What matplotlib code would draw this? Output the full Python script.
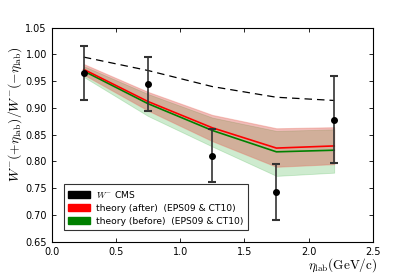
import matplotlib
matplotlib.use("Agg")
import matplotlib.pyplot as plt
import matplotlib.patches as mpatches
import numpy as np

eta = [0.25, 0.75, 1.25, 1.75, 2.2]
cms_y = [0.965, 0.945, 0.811, 0.743, 0.878]
cms_err = [0.050, 0.050, 0.049, 0.053, 0.081]
dashed_y = [0.995, 0.970, 0.940, 0.920, 0.914]
after_y = [0.972, 0.912, 0.863, 0.825, 0.829]
after_lo = [0.962, 0.895, 0.838, 0.790, 0.795]
after_hi = [0.982, 0.930, 0.887, 0.862, 0.864]
before_y = [0.969, 0.908, 0.858, 0.818, 0.821]
before_lo = [0.958, 0.885, 0.828, 0.773, 0.779]
before_hi = [0.978, 0.926, 0.882, 0.857, 0.860]

plt.rcParams['mathtext.fontset'] = 'cm'
fig = plt.figure(figsize=(4.15, 2.77), dpi=100)
ax = fig.add_axes([51.7/415, 1-241.7/277, (372.7-51.7)/415, (241.7-27.7)/277])

ax.fill_between(eta, before_lo, before_hi, color='#3cb043', alpha=0.25, lw=0.6)
ax.fill_between(eta, after_lo, after_hi, facecolor='#d94039', alpha=0.35, lw=0.8, edgecolor='#e87060')
ax.plot(eta, before_y, color='green', lw=1.2)
ax.plot(eta, after_y, color='red', lw=1.2)
ax.plot(eta, dashed_y, color='black', ls='--', lw=0.9, dashes=(6, 4))
ax.errorbar(eta, cms_y, yerr=cms_err, fmt='o', color='black', ms=4,
            ecolor='#333333', elinewidth=1.2, capsize=3, capthick=1.5)

ax.set_xlim(0, 2.5)
ax.set_ylim(0.65, 1.05)
ax.set_xticks(np.arange(0, 2.51, 0.5))
ax.set_yticks(np.arange(0.65, 1.051, 0.05))
ax.tick_params(direction='in', top=True, right=True, labelsize=7, length=3, width=0.6)
for s in ax.spines.values():
    s.set_linewidth(0.8)

fig.text(15/415, 1-114/277, r'$W^{-}(+\eta_{\rm lab})/W^{-}(-\eta_{\rm lab})$',
         rotation=90, ha='center', va='center', fontsize=9.8)
fig.text(377/415, 1-265/277, r'$\eta_{\rm lab}(\rm GeV/c)$', ha='right', va='center', fontsize=9.5)

handles = [mpatches.Patch(color='black', label=r'$W^{-}$ CMS'),
           mpatches.Patch(color='red', label='theory (after)  (EPS09 & CT10)'),
           mpatches.Patch(color='green', label='theory (before)  (EPS09 & CT10)')]
leg = ax.legend(handles=handles, loc='lower left', bbox_to_anchor=(0.038, 0.055),
                fontsize=6.6, frameon=True, fancybox=False, edgecolor='black',
                handlelength=2.4, handleheight=0.9, borderpad=0.45, labelspacing=0.45,
                handletextpad=0.7, borderaxespad=0)
leg.get_frame().set_linewidth(0.8)

fig.savefig('out.png', dpi=100)
